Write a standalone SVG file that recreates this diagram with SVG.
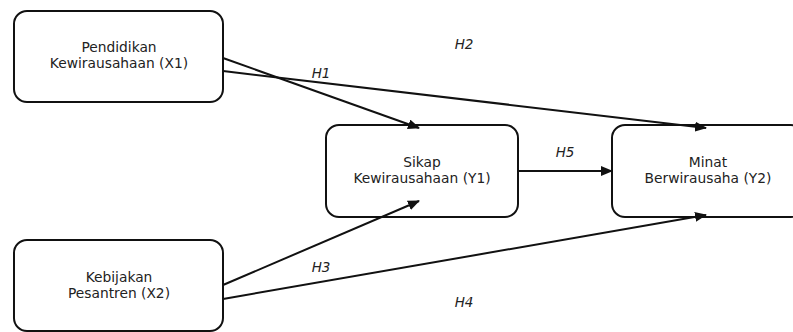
<svg xmlns="http://www.w3.org/2000/svg" width="793" height="332" viewBox="0 0 793 332">
<style>
.box{fill:#fff;stroke:#111;stroke-width:2}
.t{font-family:"DejaVu Sans",sans-serif;font-size:13.8px;fill:#222;text-anchor:middle}
.h{font-family:"DejaVu Sans",sans-serif;font-size:13.5px;font-style:italic;fill:#222;text-anchor:middle}
.c{stroke:#111;stroke-width:2;fill:none;marker-end:url(#ah)}
</style>
<defs>
<marker id="ah" markerWidth="12" markerHeight="10" refX="11" refY="5" orient="auto" markerUnits="userSpaceOnUse">
<path d="M0,0 L12,5 L0,10 Z" fill="#111"/>
</marker>
</defs>
<rect width="793" height="332" fill="#fff"/>
<g id="X1">
<rect class="box" x="14" y="11" width="209" height="91" rx="13"/>
<text class="t" x="119" y="52">Pendidikan</text>
<text class="t" x="119" y="68">Kewirausahaan (X1)</text>
</g>
<g id="X2">
<rect class="box" x="14" y="240" width="209" height="91" rx="13"/>
<text class="t" x="119" y="282">Kebijakan</text>
<text class="t" x="119" y="298">Pesantren (X2)</text>
</g>
<g id="Y1">
<rect class="box" x="326" y="125" width="192" height="92" rx="13"/>
<text class="t" x="422" y="167">Sikap</text>
<text class="t" x="422" y="183">Kewirausahaan (Y1)</text>
</g>
<g id="Y2">
<rect class="box" x="612" y="125" width="192" height="92" rx="13"/>
<text class="t" x="708" y="167">Minat</text>
<text class="t" x="708" y="183">Berwirausaha (Y2)</text>
</g>
<g id="connectors">
<line class="c" x1="223" y1="58" x2="419" y2="128"/>
<line class="c" x1="223" y1="71" x2="706" y2="128"/>
<line class="c" x1="518" y1="171" x2="612" y2="171"/>
<line class="c" x1="223" y1="285" x2="419" y2="201"/>
<line class="c" x1="223" y1="299" x2="706" y2="215"/>
<rect x="311" y="66" width="21" height="14" fill="#fff"/>
<text class="h" x="321" y="78">H1</text>
<text class="h" x="464" y="49">H2</text>
<text class="h" x="565" y="157">H5</text>
<text class="h" x="321" y="272">H3</text>
<text class="h" x="464" y="307">H4</text>
</g>
</svg>
